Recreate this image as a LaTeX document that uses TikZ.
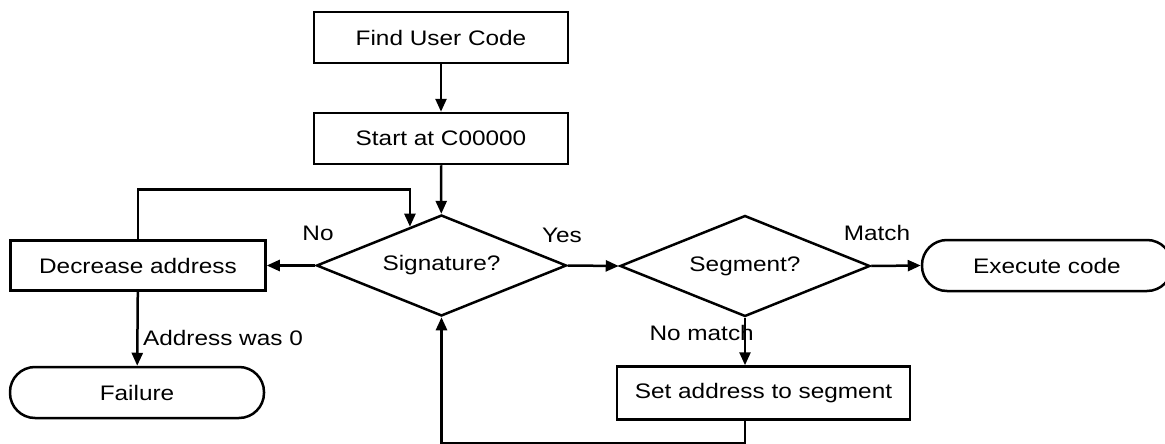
\documentclass[tikz,border=0pt]{standalone}
\usepackage{fontspec}
\setmainfont{Liberation Sans}[FakeStretch=1.16]
\usetikzlibrary{shapes.geometric,arrows.meta,calc}
\begin{document}
\begin{tikzpicture}[x=1pt,y=-1pt, line width=2.5pt, font=\fontsize{21}{24}\selectfont,
  box/.style={draw, rectangle, minimum width=254pt, minimum height=51pt, inner sep=0pt},
  term/.style={draw, rectangle, rounded corners=25pt, minimum height=51pt, inner sep=0pt},
  dec/.style={draw, diamond, minimum width=250pt, minimum height=101pt, inner sep=0pt, aspect=2.5},
  arr/.style={-{Triangle[length=13pt,width=11pt]}},
  lbl/.style={inner sep=0pt}]
\useasboundingbox (0,0) rectangle (1165,444);
\node[box] (find) at (441,37.5) {Find User Code};
\node[box] (start) at (441,138.5) {Start at C00000};
\node[dec] (sig) at (441.5,265.5) {Signature?};
\node[box, minimum width=255pt, minimum height=50pt] (decr) at (138,265.5) {Decrease address};
\node[term, minimum width=254pt] (fail) at (137,392.5) {Failure};
\node[dec] (seg) at (745,266) {Segment?};
\node[term, minimum width=250pt] (exec) at (1047,265.5) {Execute code};
\node[box, minimum width=293pt, minimum height=53pt] (setad) at (763.5,393) {Set address to segment};

\coordinate (sigin) at ($(sig.north)!0.25!(sig.west)$);

\draw[arr] (find) -- (start);
\draw[arr] (start) -- (sig);
\draw[arr] (sig.west) -- (decr.east);
\draw[arr] (sig.east) -- (seg.west);
\draw[arr] (seg.east) -- (exec.west);
\draw[arr] (seg.south) -- (seg.south |- setad.north);
\draw[arr] (decr) -- (fail);
\draw[arr] (decr.north) -- ++(0,-50) -| (sigin);
\draw[arr] (seg.south |- setad.south) -- ++(0,22) -| (sig.south);

\node[lbl] (lno) at (318,233) {No};
\node[lbl] (lyes) at (562,235) {Yes};
\node[lbl] (lmatch) at (877,233) {Match};
\node[lbl, anchor=east] (lnomatch) at (755,333) {No match};
\node[lbl] (laddr) at (223,338) {Address was 0};
\end{tikzpicture}
\end{document}
